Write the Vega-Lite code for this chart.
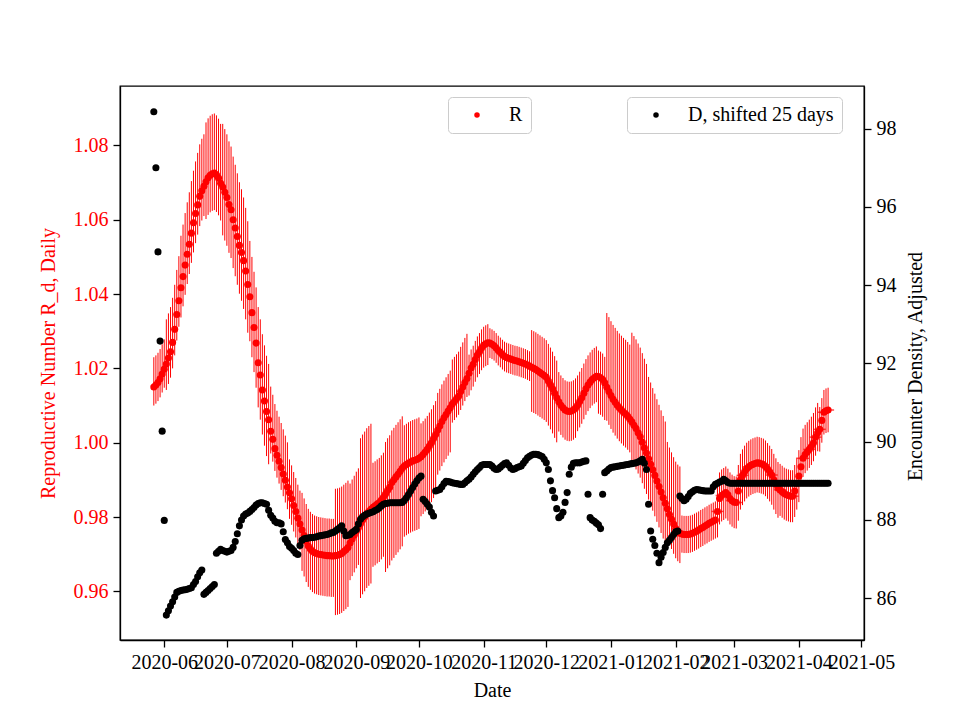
{
"$schema":"https://vega.github.io/schema/vega-lite/v6.json",
"width":744,"height":554,
"autosize":{"type":"none"},
"padding":{"left":120,"top":86,"right":96,"bottom":80},
"background":"white",
"config":{
"font":"Liberation Serif",
"view":{"stroke":"black","strokeWidth":1.3},
"axis":{"labelFont":"Liberation Serif","titleFont":"Liberation Serif","labelFontSize":20,"titleFontSize":20,"titleFontWeight":"normal","tickSize":7,"tickWidth":1.3,"tickColor":"black","domainColor":"black","domainWidth":1.3,"grid":false,"labelPadding":5,"labelColor":"black","titleColor":"black","labelOverlap":false,"labelFlush":false,"labelBound":false},
"legend":{"labelFont":"Liberation Serif","labelFontSize":20,"labelColor":"black"}
},
"datasets":{
"m":[
{"d":"2020-05-27","r":1.0150,"l":1.0100,"h":1.0230,"e":98.43},
{"d":"2020-05-28","r":1.0155,"l":1.0105,"h":1.0235,"e":97.00},
{"d":"2020-05-29","r":1.0162,"l":1.0112,"h":1.0242,"e":94.85},
{"d":"2020-05-30","r":1.0172,"l":1.0122,"h":1.0252,"e":92.57},
{"d":"2020-05-31","r":1.0185,"l":1.0135,"h":1.0265,"e":90.27},
{"d":"2020-06-01","r":1.0198,"l":1.0148,"h":1.0278,"e":87.99},
{"d":"2020-06-02","r":1.0212,"l":1.0142,"h":1.0332,"e":85.57},
{"d":"2020-06-03","r":1.0228,"l":1.0158,"h":1.0348,"e":85.68},
{"d":"2020-06-04","r":1.0245,"l":1.0175,"h":1.0365,"e":85.80},
{"d":"2020-06-05","r":1.0270,"l":1.0200,"h":1.0390,"e":85.91},
{"d":"2020-06-06","r":1.0305,"l":1.0235,"h":1.0425,"e":86.03},
{"d":"2020-06-07","r":1.0345,"l":1.0275,"h":1.0465,"e":86.15},
{"d":"2020-06-08","r":1.0382,"l":1.0312,"h":1.0502,"e":86.18},
{"d":"2020-06-09","r":1.0417,"l":1.0337,"h":1.0557,"e":86.20},
{"d":"2020-06-10","r":1.0447,"l":1.0367,"h":1.0587,"e":86.21},
{"d":"2020-06-11","r":1.0478,"l":1.0398,"h":1.0618,"e":86.22},
{"d":"2020-06-12","r":1.0507,"l":1.0427,"h":1.0647,"e":86.23},
{"d":"2020-06-13","r":1.0534,"l":1.0454,"h":1.0674,"e":86.25},
{"d":"2020-06-14","r":1.0564,"l":1.0484,"h":1.0704,"e":86.27},
{"d":"2020-06-15","r":1.0592,"l":1.0512,"h":1.0732,"e":86.35},
{"d":"2020-06-16","r":1.0617,"l":1.0537,"h":1.0757,"e":86.43},
{"d":"2020-06-17","r":1.0640,"l":1.0560,"h":1.0780,"e":86.55},
{"d":"2020-06-18","r":1.0663,"l":1.0583,"h":1.0803,"e":86.65},
{"d":"2020-06-19","r":1.0678,"l":1.0598,"h":1.0818,"e":86.72},
{"d":"2020-06-20","r":1.0690,"l":1.0610,"h":1.0830,"e":86.10},
{"d":"2020-06-21","r":1.0702,"l":1.0602,"h":1.0862,"e":86.15},
{"d":"2020-06-22","r":1.0713,"l":1.0613,"h":1.0873,"e":86.20},
{"d":"2020-06-23","r":1.0720,"l":1.0620,"h":1.0880,"e":86.25},
{"d":"2020-06-24","r":1.0724,"l":1.0624,"h":1.0884,"e":86.30},
{"d":"2020-06-25","r":1.0726,"l":1.0626,"h":1.0886,"e":86.35},
{"d":"2020-06-26","r":1.0721,"l":1.0621,"h":1.0881,"e":87.15},
{"d":"2020-06-27","r":1.0712,"l":1.0612,"h":1.0872,"e":87.20},
{"d":"2020-06-28","r":1.0698,"l":1.0598,"h":1.0858,"e":87.25},
{"d":"2020-06-29","r":1.0688,"l":1.0558,"h":1.0858,"e":87.22},
{"d":"2020-06-30","r":1.0674,"l":1.0544,"h":1.0844,"e":87.20},
{"d":"2020-07-01","r":1.0660,"l":1.0530,"h":1.0830,"e":87.18},
{"d":"2020-07-02","r":1.0641,"l":1.0511,"h":1.0811,"e":87.20},
{"d":"2020-07-03","r":1.0627,"l":1.0497,"h":1.0797,"e":87.22},
{"d":"2020-07-04","r":1.0600,"l":1.0470,"h":1.0770,"e":87.30},
{"d":"2020-07-05","r":1.0578,"l":1.0448,"h":1.0748,"e":87.45},
{"d":"2020-07-06","r":1.0555,"l":1.0425,"h":1.0725,"e":87.65},
{"d":"2020-07-07","r":1.0531,"l":1.0401,"h":1.0701,"e":87.85},
{"d":"2020-07-08","r":1.0512,"l":1.0382,"h":1.0682,"e":88.00},
{"d":"2020-07-09","r":1.0490,"l":1.0360,"h":1.0660,"e":88.10},
{"d":"2020-07-10","r":1.0462,"l":1.0332,"h":1.0632,"e":88.15},
{"d":"2020-07-11","r":1.0426,"l":1.0296,"h":1.0596,"e":88.18},
{"d":"2020-07-12","r":1.0393,"l":1.0273,"h":1.0543,"e":88.22},
{"d":"2020-07-13","r":1.0350,"l":1.0230,"h":1.0500,"e":88.27},
{"d":"2020-07-14","r":1.0310,"l":1.0190,"h":1.0460,"e":88.32},
{"d":"2020-07-15","r":1.0268,"l":1.0148,"h":1.0418,"e":88.38},
{"d":"2020-07-16","r":1.0215,"l":1.0095,"h":1.0365,"e":88.42},
{"d":"2020-07-17","r":1.0182,"l":1.0062,"h":1.0332,"e":88.44},
{"d":"2020-07-18","r":1.0142,"l":1.0022,"h":1.0292,"e":88.44},
{"d":"2020-07-19","r":1.0112,"l":0.9992,"h":1.0262,"e":88.42},
{"d":"2020-07-20","r":1.0084,"l":0.9964,"h":1.0234,"e":88.40},
{"d":"2020-07-21","r":1.0062,"l":0.9942,"h":1.0212,"e":88.25},
{"d":"2020-07-22","r":1.0031,"l":0.9971,"h":1.0151,"e":88.12},
{"d":"2020-07-23","r":1.0009,"l":0.9949,"h":1.0129,"e":88.05},
{"d":"2020-07-24","r":0.9984,"l":0.9924,"h":1.0104,"e":87.97},
{"d":"2020-07-25","r":0.9966,"l":0.9906,"h":1.0086,"e":87.93},
{"d":"2020-07-26","r":0.9950,"l":0.9890,"h":1.0070,"e":87.93},
{"d":"2020-07-27","r":0.9933,"l":0.9873,"h":1.0053,"e":87.90},
{"d":"2020-07-28","r":0.9916,"l":0.9856,"h":1.0036,"e":87.70},
{"d":"2020-07-29","r":0.9899,"l":0.9839,"h":1.0019,"e":87.50},
{"d":"2020-07-30","r":0.9881,"l":0.9821,"h":1.0001,"e":87.42},
{"d":"2020-07-31","r":0.9865,"l":0.9795,"h":0.9955,"e":87.32},
{"d":"2020-08-01","r":0.9849,"l":0.9779,"h":0.9939,"e":87.28},
{"d":"2020-08-02","r":0.9831,"l":0.9761,"h":0.9921,"e":87.22},
{"d":"2020-08-03","r":0.9815,"l":0.9745,"h":0.9905,"e":87.15},
{"d":"2020-08-04","r":0.9797,"l":0.9727,"h":0.9887,"e":87.12},
{"d":"2020-08-05","r":0.9781,"l":0.9711,"h":0.9871,"e":87.35},
{"d":"2020-08-06","r":0.9765,"l":0.9655,"h":0.9865,"e":87.48},
{"d":"2020-08-07","r":0.9750,"l":0.9640,"h":0.9850,"e":87.52},
{"d":"2020-08-08","r":0.9735,"l":0.9625,"h":0.9835,"e":87.53},
{"d":"2020-08-09","r":0.9722,"l":0.9612,"h":0.9822,"e":87.54},
{"d":"2020-08-10","r":0.9714,"l":0.9604,"h":0.9814,"e":87.55},
{"d":"2020-08-11","r":0.9708,"l":0.9598,"h":0.9808,"e":87.55},
{"d":"2020-08-12","r":0.9704,"l":0.9594,"h":0.9804,"e":87.56},
{"d":"2020-08-13","r":0.9702,"l":0.9592,"h":0.9802,"e":87.57},
{"d":"2020-08-14","r":0.9700,"l":0.9590,"h":0.9800,"e":87.59},
{"d":"2020-08-15","r":0.9699,"l":0.9589,"h":0.9799,"e":87.60},
{"d":"2020-08-16","r":0.9698,"l":0.9588,"h":0.9798,"e":87.61},
{"d":"2020-08-17","r":0.9697,"l":0.9587,"h":0.9797,"e":87.62},
{"d":"2020-08-18","r":0.9696,"l":0.9586,"h":0.9796,"e":87.63},
{"d":"2020-08-19","r":0.9696,"l":0.9586,"h":0.9796,"e":87.65},
{"d":"2020-08-20","r":0.9695,"l":0.9585,"h":0.9795,"e":87.67},
{"d":"2020-08-21","r":0.9695,"l":0.9585,"h":0.9795,"e":87.68},
{"d":"2020-08-22","r":0.9696,"l":0.9536,"h":0.9876,"e":87.72},
{"d":"2020-08-23","r":0.9697,"l":0.9537,"h":0.9877,"e":87.76},
{"d":"2020-08-24","r":0.9699,"l":0.9539,"h":0.9879,"e":87.80},
{"d":"2020-08-25","r":0.9702,"l":0.9542,"h":0.9882,"e":87.85},
{"d":"2020-08-26","r":0.9707,"l":0.9547,"h":0.9887,"e":87.72},
{"d":"2020-08-27","r":0.9712,"l":0.9552,"h":0.9892,"e":87.60},
{"d":"2020-08-28","r":0.9718,"l":0.9558,"h":0.9898,"e":87.61},
{"d":"2020-08-29","r":0.9730,"l":0.9630,"h":0.9890,"e":87.63},
{"d":"2020-08-30","r":0.9741,"l":0.9641,"h":0.9901,"e":87.68},
{"d":"2020-08-31","r":0.9751,"l":0.9651,"h":0.9911,"e":87.72},
{"d":"2020-09-01","r":0.9762,"l":0.9662,"h":0.9922,"e":87.76},
{"d":"2020-09-02","r":0.9771,"l":0.9671,"h":0.9931,"e":87.90},
{"d":"2020-09-03","r":0.9782,"l":0.9582,"h":1.0012,"e":88.02},
{"d":"2020-09-04","r":0.9792,"l":0.9592,"h":1.0022,"e":88.08},
{"d":"2020-09-05","r":0.9800,"l":0.9600,"h":1.0030,"e":88.12},
{"d":"2020-09-06","r":0.9809,"l":0.9609,"h":1.0039,"e":88.15},
{"d":"2020-09-07","r":0.9815,"l":0.9615,"h":1.0045,"e":88.17},
{"d":"2020-09-08","r":0.9821,"l":0.9621,"h":1.0051,"e":88.19},
{"d":"2020-09-09","r":0.9826,"l":0.9666,"h":0.9946,"e":88.21},
{"d":"2020-09-10","r":0.9830,"l":0.9670,"h":0.9950,"e":88.24},
{"d":"2020-09-11","r":0.9835,"l":0.9675,"h":0.9955,"e":88.27},
{"d":"2020-09-12","r":0.9839,"l":0.9679,"h":0.9959,"e":88.31},
{"d":"2020-09-13","r":0.9846,"l":0.9686,"h":0.9966,"e":88.36},
{"d":"2020-09-14","r":0.9853,"l":0.9693,"h":0.9973,"e":88.40},
{"d":"2020-09-15","r":0.9862,"l":0.9652,"h":1.0002,"e":88.42},
{"d":"2020-09-16","r":0.9872,"l":0.9662,"h":1.0012,"e":88.43},
{"d":"2020-09-17","r":0.9880,"l":0.9670,"h":1.0020,"e":88.44},
{"d":"2020-09-18","r":0.9893,"l":0.9683,"h":1.0033,"e":88.44},
{"d":"2020-09-19","r":0.9900,"l":0.9690,"h":1.0040,"e":88.44},
{"d":"2020-09-20","r":0.9908,"l":0.9698,"h":1.0048,"e":88.44},
{"d":"2020-09-21","r":0.9915,"l":0.9705,"h":1.0055,"e":88.44},
{"d":"2020-09-22","r":0.9923,"l":0.9713,"h":1.0063,"e":88.44},
{"d":"2020-09-23","r":0.9931,"l":0.9721,"h":1.0071,"e":88.45},
{"d":"2020-09-24","r":0.9937,"l":0.9747,"h":1.0047,"e":88.50},
{"d":"2020-09-25","r":0.9941,"l":0.9751,"h":1.0051,"e":88.57},
{"d":"2020-09-26","r":0.9945,"l":0.9755,"h":1.0055,"e":88.65},
{"d":"2020-09-27","r":0.9948,"l":0.9758,"h":1.0058,"e":88.74},
{"d":"2020-09-28","r":0.9951,"l":0.9761,"h":1.0061,"e":88.83},
{"d":"2020-09-29","r":0.9953,"l":0.9763,"h":1.0063,"e":88.92},
{"d":"2020-09-30","r":0.9955,"l":0.9765,"h":1.0065,"e":89.00},
{"d":"2020-10-01","r":0.9958,"l":0.9768,"h":1.0068,"e":89.07},
{"d":"2020-10-02","r":0.9962,"l":0.9802,"h":1.0052,"e":89.12},
{"d":"2020-10-03","r":0.9968,"l":0.9808,"h":1.0058,"e":88.53},
{"d":"2020-10-04","r":0.9975,"l":0.9815,"h":1.0065,"e":88.47},
{"d":"2020-10-05","r":0.9982,"l":0.9822,"h":1.0072,"e":88.40},
{"d":"2020-10-06","r":0.9991,"l":0.9831,"h":1.0081,"e":88.33},
{"d":"2020-10-07","r":1.0000,"l":0.9840,"h":1.0090,"e":88.20},
{"d":"2020-10-08","r":1.0011,"l":0.9851,"h":1.0101,"e":88.10},
{"d":"2020-10-09","r":1.0022,"l":0.9862,"h":1.0112,"e":88.74},
{"d":"2020-10-10","r":1.0034,"l":0.9914,"h":1.0134,"e":88.76},
{"d":"2020-10-11","r":1.0045,"l":0.9925,"h":1.0145,"e":88.78},
{"d":"2020-10-12","r":1.0057,"l":0.9937,"h":1.0157,"e":88.85},
{"d":"2020-10-13","r":1.0067,"l":0.9947,"h":1.0167,"e":88.93},
{"d":"2020-10-14","r":1.0076,"l":0.9956,"h":1.0176,"e":88.99},
{"d":"2020-10-15","r":1.0085,"l":0.9965,"h":1.0185,"e":88.98},
{"d":"2020-10-16","r":1.0094,"l":0.9974,"h":1.0194,"e":88.97},
{"d":"2020-10-17","r":1.0104,"l":1.0054,"h":1.0224,"e":88.95},
{"d":"2020-10-18","r":1.0111,"l":1.0061,"h":1.0231,"e":88.94},
{"d":"2020-10-19","r":1.0118,"l":1.0068,"h":1.0238,"e":88.93},
{"d":"2020-10-20","r":1.0125,"l":1.0075,"h":1.0245,"e":88.92},
{"d":"2020-10-21","r":1.0138,"l":1.0088,"h":1.0258,"e":88.91},
{"d":"2020-10-22","r":1.0150,"l":1.0100,"h":1.0270,"e":88.91},
{"d":"2020-10-23","r":1.0162,"l":1.0112,"h":1.0282,"e":88.95},
{"d":"2020-10-24","r":1.0173,"l":1.0123,"h":1.0293,"e":89.00},
{"d":"2020-10-25","r":1.0187,"l":1.0127,"h":1.0237,"e":89.04},
{"d":"2020-10-26","r":1.0201,"l":1.0141,"h":1.0251,"e":89.10},
{"d":"2020-10-27","r":1.0211,"l":1.0151,"h":1.0261,"e":89.17},
{"d":"2020-10-28","r":1.0224,"l":1.0164,"h":1.0274,"e":89.23},
{"d":"2020-10-29","r":1.0236,"l":1.0176,"h":1.0286,"e":89.29},
{"d":"2020-10-30","r":1.0245,"l":1.0185,"h":1.0295,"e":89.34},
{"d":"2020-10-31","r":1.0255,"l":1.0195,"h":1.0305,"e":89.40},
{"d":"2020-11-01","r":1.0262,"l":1.0202,"h":1.0312,"e":89.42},
{"d":"2020-11-02","r":1.0266,"l":1.0206,"h":1.0316,"e":89.42},
{"d":"2020-11-03","r":1.0269,"l":1.0209,"h":1.0319,"e":89.42},
{"d":"2020-11-04","r":1.0268,"l":1.0228,"h":1.0308,"e":89.42},
{"d":"2020-11-05","r":1.0265,"l":1.0225,"h":1.0305,"e":89.38},
{"d":"2020-11-06","r":1.0261,"l":1.0221,"h":1.0301,"e":89.32},
{"d":"2020-11-07","r":1.0255,"l":1.0215,"h":1.0295,"e":89.29},
{"d":"2020-11-08","r":1.0248,"l":1.0208,"h":1.0288,"e":89.30},
{"d":"2020-11-09","r":1.0243,"l":1.0203,"h":1.0283,"e":89.35},
{"d":"2020-11-10","r":1.0237,"l":1.0197,"h":1.0277,"e":89.40},
{"d":"2020-11-11","r":1.0232,"l":1.0192,"h":1.0272,"e":89.44},
{"d":"2020-11-12","r":1.0229,"l":1.0189,"h":1.0269,"e":89.46},
{"d":"2020-11-13","r":1.0227,"l":1.0187,"h":1.0267,"e":89.40},
{"d":"2020-11-14","r":1.0225,"l":1.0185,"h":1.0265,"e":89.33},
{"d":"2020-11-15","r":1.0223,"l":1.0183,"h":1.0263,"e":89.29},
{"d":"2020-11-16","r":1.0221,"l":1.0181,"h":1.0261,"e":89.31},
{"d":"2020-11-17","r":1.0220,"l":1.0180,"h":1.0260,"e":89.34},
{"d":"2020-11-18","r":1.0218,"l":1.0178,"h":1.0258,"e":89.36},
{"d":"2020-11-19","r":1.0216,"l":1.0176,"h":1.0256,"e":89.38},
{"d":"2020-11-20","r":1.0214,"l":1.0174,"h":1.0254,"e":89.45},
{"d":"2020-11-21","r":1.0212,"l":1.0172,"h":1.0252,"e":89.52},
{"d":"2020-11-22","r":1.0209,"l":1.0169,"h":1.0249,"e":89.59},
{"d":"2020-11-23","r":1.0206,"l":1.0166,"h":1.0246,"e":89.63},
{"d":"2020-11-24","r":1.0203,"l":1.0083,"h":1.0303,"e":89.66},
{"d":"2020-11-25","r":1.0200,"l":1.0080,"h":1.0300,"e":89.68},
{"d":"2020-11-26","r":1.0197,"l":1.0077,"h":1.0297,"e":89.68},
{"d":"2020-11-27","r":1.0193,"l":1.0073,"h":1.0293,"e":89.67},
{"d":"2020-11-28","r":1.0189,"l":1.0069,"h":1.0289,"e":89.65},
{"d":"2020-11-29","r":1.0185,"l":1.0065,"h":1.0285,"e":89.62},
{"d":"2020-11-30","r":1.0181,"l":1.0061,"h":1.0281,"e":89.55},
{"d":"2020-12-01","r":1.0176,"l":1.0056,"h":1.0276,"e":89.46},
{"d":"2020-12-02","r":1.0166,"l":1.0046,"h":1.0266,"e":89.29},
{"d":"2020-12-03","r":1.0156,"l":1.0036,"h":1.0256,"e":89.00},
{"d":"2020-12-04","r":1.0145,"l":1.0025,"h":1.0245,"e":88.75},
{"d":"2020-12-05","r":1.0133,"l":1.0013,"h":1.0233,"e":88.57},
{"d":"2020-12-06","r":1.0121,"l":1.0001,"h":1.0221,"e":88.29},
{"d":"2020-12-07","r":1.0110,"l":1.0030,"h":1.0190,"e":88.06},
{"d":"2020-12-08","r":1.0101,"l":1.0021,"h":1.0181,"e":88.10},
{"d":"2020-12-09","r":1.0094,"l":1.0014,"h":1.0174,"e":88.20},
{"d":"2020-12-10","r":1.0088,"l":1.0008,"h":1.0168,"e":88.45},
{"d":"2020-12-11","r":1.0085,"l":1.0005,"h":1.0165,"e":88.70},
{"d":"2020-12-12","r":1.0084,"l":1.0004,"h":1.0164,"e":89.17},
{"d":"2020-12-13","r":1.0085,"l":1.0005,"h":1.0165,"e":89.35},
{"d":"2020-12-14","r":1.0088,"l":1.0008,"h":1.0168,"e":89.45},
{"d":"2020-12-15","r":1.0093,"l":1.0013,"h":1.0173,"e":89.46},
{"d":"2020-12-16","r":1.0101,"l":1.0031,"h":1.0181,"e":89.46},
{"d":"2020-12-17","r":1.0111,"l":1.0041,"h":1.0191,"e":89.46},
{"d":"2020-12-18","r":1.0121,"l":1.0051,"h":1.0201,"e":89.48},
{"d":"2020-12-19","r":1.0133,"l":1.0063,"h":1.0213,"e":89.50},
{"d":"2020-12-20","r":1.0145,"l":1.0075,"h":1.0225,"e":89.51},
{"d":"2020-12-21","r":1.0155,"l":1.0085,"h":1.0235,"e":88.66},
{"d":"2020-12-22","r":1.0163,"l":1.0093,"h":1.0243,"e":88.06},
{"d":"2020-12-23","r":1.0170,"l":1.0100,"h":1.0250,"e":88.00},
{"d":"2020-12-24","r":1.0175,"l":1.0105,"h":1.0255,"e":87.97},
{"d":"2020-12-25","r":1.0179,"l":1.0109,"h":1.0259,"e":87.92},
{"d":"2020-12-26","r":1.0178,"l":1.0078,"h":1.0248,"e":87.88},
{"d":"2020-12-27","r":1.0175,"l":1.0075,"h":1.0245,"e":87.78},
{"d":"2020-12-28","r":1.0170,"l":1.0070,"h":1.0240,"e":88.66},
{"d":"2020-12-29","r":1.0161,"l":1.0061,"h":1.0231,"e":89.21},
{"d":"2020-12-30","r":1.0149,"l":1.0059,"h":1.0349,"e":89.25},
{"d":"2020-12-31","r":1.0138,"l":1.0048,"h":1.0338,"e":89.30},
{"d":"2021-01-01","r":1.0127,"l":1.0037,"h":1.0327,"e":89.34},
{"d":"2021-01-02","r":1.0117,"l":1.0027,"h":1.0317,"e":89.35},
{"d":"2021-01-03","r":1.0109,"l":1.0019,"h":1.0309,"e":89.36},
{"d":"2021-01-04","r":1.0101,"l":1.0011,"h":1.0301,"e":89.37},
{"d":"2021-01-05","r":1.0094,"l":1.0004,"h":1.0294,"e":89.38},
{"d":"2021-01-06","r":1.0088,"l":0.9998,"h":1.0288,"e":89.39},
{"d":"2021-01-07","r":1.0082,"l":0.9992,"h":1.0282,"e":89.40},
{"d":"2021-01-08","r":1.0077,"l":0.9987,"h":1.0277,"e":89.41},
{"d":"2021-01-09","r":1.0071,"l":0.9981,"h":1.0271,"e":89.42},
{"d":"2021-01-10","r":1.0064,"l":0.9974,"h":1.0264,"e":89.43},
{"d":"2021-01-11","r":1.0056,"l":0.9946,"h":1.0296,"e":89.44},
{"d":"2021-01-12","r":1.0047,"l":0.9937,"h":1.0287,"e":89.45},
{"d":"2021-01-13","r":1.0038,"l":0.9928,"h":1.0278,"e":89.46},
{"d":"2021-01-14","r":1.0027,"l":0.9917,"h":1.0267,"e":89.48},
{"d":"2021-01-15","r":1.0016,"l":0.9906,"h":1.0256,"e":89.51},
{"d":"2021-01-16","r":1.0001,"l":0.9891,"h":1.0241,"e":89.55},
{"d":"2021-01-17","r":0.9986,"l":0.9876,"h":1.0226,"e":89.45},
{"d":"2021-01-18","r":0.9972,"l":0.9862,"h":1.0212,"e":89.29},
{"d":"2021-01-19","r":0.9957,"l":0.9847,"h":1.0177,"e":88.40},
{"d":"2021-01-20","r":0.9942,"l":0.9832,"h":1.0162,"e":87.72},
{"d":"2021-01-21","r":0.9927,"l":0.9817,"h":1.0147,"e":87.51},
{"d":"2021-01-22","r":0.9912,"l":0.9802,"h":1.0132,"e":87.35},
{"d":"2021-01-23","r":0.9897,"l":0.9787,"h":1.0117,"e":87.15},
{"d":"2021-01-24","r":0.9882,"l":0.9772,"h":1.0102,"e":86.91},
{"d":"2021-01-25","r":0.9867,"l":0.9757,"h":1.0087,"e":87.05},
{"d":"2021-01-26","r":0.9852,"l":0.9742,"h":1.0072,"e":87.17},
{"d":"2021-01-27","r":0.9837,"l":0.9727,"h":1.0057,"e":87.30},
{"d":"2021-01-28","r":0.9822,"l":0.9742,"h":1.0002,"e":87.42},
{"d":"2021-01-29","r":0.9807,"l":0.9727,"h":0.9987,"e":87.48},
{"d":"2021-01-30","r":0.9794,"l":0.9714,"h":0.9974,"e":87.55},
{"d":"2021-01-31","r":0.9781,"l":0.9701,"h":0.9961,"e":87.63},
{"d":"2021-02-01","r":0.9769,"l":0.9689,"h":0.9949,"e":87.70},
{"d":"2021-02-02","r":0.9761,"l":0.9681,"h":0.9941,"e":87.72},
{"d":"2021-02-03","r":0.9756,"l":0.9676,"h":0.9936,"e":88.61},
{"d":"2021-02-04","r":0.9754,"l":0.9704,"h":0.9804,"e":88.55},
{"d":"2021-02-05","r":0.9753,"l":0.9703,"h":0.9803,"e":88.49},
{"d":"2021-02-06","r":0.9753,"l":0.9703,"h":0.9803,"e":88.53},
{"d":"2021-02-07","r":0.9753,"l":0.9703,"h":0.9803,"e":88.60},
{"d":"2021-02-08","r":0.9754,"l":0.9704,"h":0.9804,"e":88.68},
{"d":"2021-02-09","r":0.9756,"l":0.9706,"h":0.9806,"e":88.72},
{"d":"2021-02-10","r":0.9759,"l":0.9709,"h":0.9809,"e":88.76},
{"d":"2021-02-11","r":0.9762,"l":0.9712,"h":0.9812,"e":88.78},
{"d":"2021-02-12","r":0.9765,"l":0.9715,"h":0.9815,"e":88.77},
{"d":"2021-02-13","r":0.9769,"l":0.9719,"h":0.9819,"e":88.76},
{"d":"2021-02-14","r":0.9772,"l":0.9722,"h":0.9822,"e":88.75},
{"d":"2021-02-15","r":0.9776,"l":0.9726,"h":0.9826,"e":88.74},
{"d":"2021-02-16","r":0.9779,"l":0.9729,"h":0.9829,"e":88.74},
{"d":"2021-02-17","r":0.9783,"l":0.9733,"h":0.9833,"e":88.74},
{"d":"2021-02-18","r":0.9786,"l":0.9736,"h":0.9836,"e":88.74},
{"d":"2021-02-19","r":0.9789,"l":0.9739,"h":0.9839,"e":88.85},
{"d":"2021-02-20","r":0.9792,"l":0.9742,"h":0.9842,"e":88.91},
{"d":"2021-02-21","r":0.9815,"l":0.9745,"h":0.9885,"e":88.94},
{"d":"2021-02-22","r":0.9850,"l":0.9780,"h":0.9920,"e":88.97},
{"d":"2021-02-23","r":0.9858,"l":0.9788,"h":0.9928,"e":88.99},
{"d":"2021-02-24","r":0.9862,"l":0.9792,"h":0.9932,"e":89.04},
{"d":"2021-02-25","r":0.9866,"l":0.9796,"h":0.9936,"e":89.00},
{"d":"2021-02-26","r":0.9860,"l":0.9790,"h":0.9930,"e":88.96},
{"d":"2021-02-27","r":0.9850,"l":0.9780,"h":0.9920,"e":88.94},
{"d":"2021-02-28","r":0.9844,"l":0.9774,"h":0.9914,"e":88.94},
{"d":"2021-03-01","r":0.9840,"l":0.9770,"h":0.9910,"e":88.94},
{"d":"2021-03-02","r":0.9839,"l":0.9769,"h":0.9909,"e":88.94},
{"d":"2021-03-03","r":0.9870,"l":0.9790,"h":0.9940,"e":88.94},
{"d":"2021-03-04","r":0.9900,"l":0.9820,"h":0.9970,"e":88.94},
{"d":"2021-03-05","r":0.9912,"l":0.9832,"h":0.9982,"e":88.94},
{"d":"2021-03-06","r":0.9922,"l":0.9842,"h":0.9992,"e":88.94},
{"d":"2021-03-07","r":0.9930,"l":0.9850,"h":1.0000,"e":88.94},
{"d":"2021-03-08","r":0.9935,"l":0.9855,"h":1.0005,"e":88.94},
{"d":"2021-03-09","r":0.9939,"l":0.9859,"h":1.0009,"e":88.94},
{"d":"2021-03-10","r":0.9942,"l":0.9862,"h":1.0012,"e":88.94},
{"d":"2021-03-11","r":0.9944,"l":0.9864,"h":1.0014,"e":88.94},
{"d":"2021-03-12","r":0.9946,"l":0.9866,"h":1.0016,"e":88.94},
{"d":"2021-03-13","r":0.9945,"l":0.9865,"h":1.0015,"e":88.94},
{"d":"2021-03-14","r":0.9943,"l":0.9863,"h":1.0013,"e":88.94},
{"d":"2021-03-15","r":0.9941,"l":0.9861,"h":1.0011,"e":88.94},
{"d":"2021-03-16","r":0.9936,"l":0.9856,"h":1.0006,"e":88.94},
{"d":"2021-03-17","r":0.9929,"l":0.9849,"h":0.9999,"e":88.94},
{"d":"2021-03-18","r":0.9922,"l":0.9842,"h":0.9992,"e":88.94},
{"d":"2021-03-19","r":0.9913,"l":0.9833,"h":0.9983,"e":88.94},
{"d":"2021-03-20","r":0.9900,"l":0.9820,"h":0.9970,"e":88.94},
{"d":"2021-03-21","r":0.9888,"l":0.9808,"h":0.9958,"e":88.94},
{"d":"2021-03-22","r":0.9878,"l":0.9798,"h":0.9948,"e":88.94},
{"d":"2021-03-23","r":0.9873,"l":0.9803,"h":0.9943,"e":88.94},
{"d":"2021-03-24","r":0.9868,"l":0.9798,"h":0.9938,"e":88.94},
{"d":"2021-03-25","r":0.9863,"l":0.9793,"h":0.9933,"e":88.94},
{"d":"2021-03-26","r":0.9860,"l":0.9790,"h":0.9930,"e":88.94},
{"d":"2021-03-27","r":0.9858,"l":0.9788,"h":0.9928,"e":88.94},
{"d":"2021-03-28","r":0.9856,"l":0.9786,"h":0.9926,"e":88.94},
{"d":"2021-03-29","r":0.9856,"l":0.9786,"h":0.9926,"e":88.94},
{"d":"2021-03-30","r":0.9870,"l":0.9800,"h":0.9940,"e":88.94},
{"d":"2021-03-31","r":0.9890,"l":0.9820,"h":0.9960,"e":88.94},
{"d":"2021-04-01","r":0.9910,"l":0.9840,"h":0.9980,"e":88.94},
{"d":"2021-04-02","r":0.9935,"l":0.9885,"h":1.0015,"e":88.94},
{"d":"2021-04-03","r":0.9958,"l":0.9908,"h":1.0038,"e":88.94},
{"d":"2021-04-04","r":0.9968,"l":0.9918,"h":1.0048,"e":88.94},
{"d":"2021-04-05","r":0.9975,"l":0.9925,"h":1.0055,"e":88.94},
{"d":"2021-04-06","r":0.9982,"l":0.9932,"h":1.0062,"e":88.94},
{"d":"2021-04-07","r":0.9990,"l":0.9940,"h":1.0070,"e":88.94},
{"d":"2021-04-08","r":1.0000,"l":0.9950,"h":1.0080,"e":88.94},
{"d":"2021-04-09","r":1.0015,"l":0.9965,"h":1.0095,"e":88.94},
{"d":"2021-04-10","r":1.0027,"l":0.9977,"h":1.0107,"e":88.94},
{"d":"2021-04-11","r":1.0036,"l":0.9976,"h":1.0096,"e":88.94},
{"d":"2021-04-12","r":1.0060,"l":1.0000,"h":1.0120,"e":88.94},
{"d":"2021-04-13","r":1.0082,"l":1.0022,"h":1.0142,"e":88.94},
{"d":"2021-04-14","r":1.0086,"l":1.0026,"h":1.0146,"e":88.94},
{"d":"2021-04-15","r":1.0088,"l":1.0028,"h":1.0148,"e":88.94}
],
"pl":[
{"d":"2021-02-21","r":0.9815},{"d":"2021-02-23","r":0.9858},{"d":"2021-02-28","r":0.9844},{"d":"2021-03-02","r":0.9839},
{"d":"2021-03-05","r":0.9912},{"d":"2021-03-08","r":0.9935},{"d":"2021-03-12","r":0.9946},{"d":"2021-03-15","r":0.9941},
{"d":"2021-03-19","r":0.9913},{"d":"2021-03-23","r":0.9873},{"d":"2021-03-26","r":0.9860},{"d":"2021-03-29","r":0.9856},
{"d":"2021-04-03","r":0.9958},{"d":"2021-04-06","r":0.9982},{"d":"2021-04-09","r":1.0015},{"d":"2021-04-11","r":1.0036},
{"d":"2021-04-13","r":1.0082},{"d":"2021-04-15","r":1.0088}
]
},
"encoding":{
"x":{"field":"d","type":"temporal","title":"Date",
"scale":{"type":"utc","domain":[{"year":2020,"month":5,"date":10,"hours":19,"minutes":12,"utc":true},{"year":2021,"month":5,"date":2,"hours":4,"minutes":48,"utc":true}]},
"axis":{"format":"%Y-%m","values":[{"year":2020,"month":6,"date":1,"utc":true},{"year":2020,"month":7,"date":1,"utc":true},{"year":2020,"month":8,"date":1,"utc":true},{"year":2020,"month":9,"date":1,"utc":true},{"year":2020,"month":10,"date":1,"utc":true},{"year":2020,"month":11,"date":1,"utc":true},{"year":2020,"month":12,"date":1,"utc":true},{"year":2021,"month":1,"date":1,"utc":true},{"year":2021,"month":2,"date":1,"utc":true},{"year":2021,"month":3,"date":1,"utc":true},{"year":2021,"month":4,"date":1,"utc":true},{"year":2021,"month":5,"date":1,"utc":true}],
"titleX":372,"titleY":50,"titleBaseline":"middle","titleAlign":"center"}}
},
"layer":[
{"layer":[
{"data":{"name":"m"},"mark":{"type":"rule","color":"red","strokeWidth":1},
"encoding":{"y":{"field":"l","type":"quantitative","scale":{"domain":[0.9469,1.096],"nice":false,"zero":false},
"axis":{"title":"Reproductive Number R_d, Daily","titleColor":"red","labelColor":"red","values":[0.96,0.98,1.0,1.02,1.04,1.06,1.08],"format":".2f","titleX":-72,"titleY":277,"titleAngle":270,"titleBaseline":"middle","titleAlign":"center"}},
"y2":{"field":"h"}}},
{"data":{"name":"m"},"mark":{"type":"circle","size":50,"opacity":1},
"encoding":{"y":{"field":"r","type":"quantitative","axis":{"title":"Reproductive Number R_d, Daily"}},
"color":{"datum":"R","scale":{"domain":["R"],"range":["red"]},
"legend":{"orient":"none","legendX":328,"legendY":11,"title":null,"symbolType":"circle","symbolSize":30,"symbolOffset":11,"labelOffset":22,"padding":8,"strokeColor":"#cccccc","fillColor":"white","cornerRadius":4}}}},
{"data":{"name":"pl"},"mark":{"type":"tick","orient":"horizontal","color":"red","size":12,"thickness":1.5},
"encoding":{"y":{"field":"r","type":"quantitative","axis":{"title":"Reproductive Number R_d, Daily"}}}}
]},
{"data":{"name":"m"},"mark":{"type":"circle","size":50,"opacity":1},
"encoding":{"y":{"field":"e","type":"quantitative","scale":{"domain":[84.934,99.088],"nice":false,"zero":false},
"axis":{"orient":"right","title":"Encounter Density, Adjusted","values":[86,88,90,92,94,96,98],"titleX":51,"titleY":280,"titleAngle":270,"titleBaseline":"middle","titleAlign":"center"}},
"color":{"datum":"D, shifted 25 days","scale":{"domain":["D, shifted 25 days"],"range":["black"]},
"legend":{"orient":"none","legendX":507,"legendY":11,"title":null,"symbolType":"circle","symbolSize":30,"symbolOffset":11,"labelOffset":22,"padding":8,"strokeColor":"#cccccc","fillColor":"white","cornerRadius":4}}}}
],
"resolve":{"scale":{"y":"independent","color":"independent"},"legend":{"color":"independent"}}
}
